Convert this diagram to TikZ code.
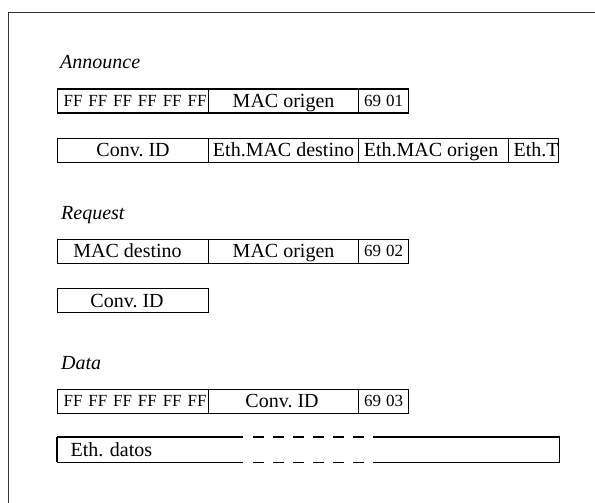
\documentclass[tikz,border=0pt]{standalone}
\usepackage{fontspec}
\setmainfont{Liberation Serif}
\frenchspacing
\begin{document}
\begin{tikzpicture}[x=1pt,y=-1pt,
  boxline/.style={line width=1.1pt, black},
  cell/.style={draw, boxline, rectangle, inner sep=0pt, minimum height=24pt, anchor=north west,
    text height=15pt, text depth=1.8pt, font=\fontsize{20}{20}\selectfont},
  small/.style={font=\fontsize{17}{17}\selectfont, text height=13pt, text depth=1.8pt},
  lbl/.style={anchor=base west, inner sep=0pt, font=\fontsize{20}{20}\selectfont\itshape},
  frameline/.style={line width=0.9pt, black!80}]
\useasboundingbox (0,0) rectangle (595,503);
% frame
\coordinate (fr1) at (595,12);
\coordinate (fr2) at (8,12);
\coordinate (fr3) at (8,503);
\draw[frameline] (fr1) -- (fr2) -- (fr3);

% Announce
\node[lbl] (lA) at (60,69) {Announce};
\node[cell, small, minimum width=151pt] (a1) at (57,88.5) {\hspace{4pt}\makebox[143pt][s]{FF FF FF FF FF FF}};
\node[cell, minimum width=150pt] (a2) at (208,88.5) {MAC origen};
\node[cell, small, minimum width=50pt] (a3) at (358,88.5) {\makebox[39pt][s]{69 01}};

\node[cell, minimum width=151pt] (b1) at (57,137.5) {Conv. ID};
\node[cell, minimum width=150pt] (b2) at (208,137.5) {Eth.MAC destino};
\node[cell, minimum width=150pt] (b3) at (358,137.5) {\hspace{-5pt}Eth.MAC origen};
\node[cell, minimum width=50pt] (b4) at (508,137.5) {\hspace{5pt}Eth.T};

% Request
\node[lbl] (lR) at (61,219) {Request};
\node[cell, minimum width=151pt] (c1) at (57,238.5) {\hspace{-11pt}MAC destino};
\node[cell, minimum width=150pt] (c2) at (208,238.5) {MAC origen};
\node[cell, small, minimum width=50pt] (c3) at (358,238.5) {\makebox[39pt][s]{69 02}};

\node[cell, minimum width=151pt] (e1) at (57,288) {\hspace{-12pt}Conv. ID};

% Data
\node[lbl] (lD) at (61,369) {Data};
\node[cell, small, minimum width=151pt] (f1) at (57,388.5) {\hspace{4pt}\makebox[143pt][s]{FF FF FF FF FF FF}};
\node[cell, minimum width=150pt] (f2) at (208,388.5) {\hspace{-3pt}Conv. ID};
\node[cell, small, minimum width=50pt] (f3) at (358,388.5) {\makebox[39pt][s]{69 03}};

\node[cell, draw=none, minimum width=501pt, text width=475pt, inner xsep=13pt, align=left] (g1) at (57,437) {Eth. datos};
\draw[boxline] (g1.north west) -- (g1.south west);
\draw[boxline] (g1.north west) -- ++(186,0);
\draw[boxline] (g1.south west) -- ++(186,0);
\draw[boxline, dash pattern=on 10.7pt off 9.3pt] ([xshift=196pt]g1.north west) -- ([xshift=326pt]g1.north west);
\draw[boxline, dash pattern=on 10.7pt off 9.3pt] ([xshift=196pt]g1.south west) -- ([xshift=326pt]g1.south west);
\draw[boxline] ([xshift=326pt]g1.north west) -- (g1.north east) -- (g1.south east) -- ([xshift=326pt]g1.south west);
\end{tikzpicture}
\end{document}
